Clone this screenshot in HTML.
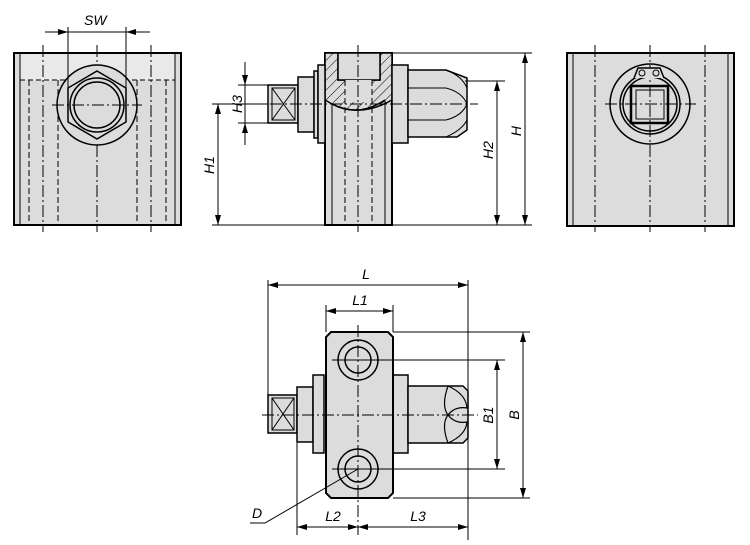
<!DOCTYPE html>
<html><head><meta charset="utf-8"><style>
html,body{margin:0;padding:0;background:#fff;}
svg{display:block;}
text{font-family:"Liberation Sans",sans-serif;font-style:italic;font-size:14px;fill:#000;}
</style></head><body>
<svg width="750" height="545" viewBox="0 0 750 545" xmlns="http://www.w3.org/2000/svg">
<defs>
<marker id="a" viewBox="0 0 10 6" refX="10" refY="3" markerWidth="10" markerHeight="6" markerUnits="userSpaceOnUse" orient="auto-start-reverse"><path d="M0,0L10,3L0,6z" fill="#000"/></marker>
<pattern id="h" width="7" height="7" patternUnits="userSpaceOnUse" patternTransform="rotate(45)"><rect width="7" height="7" fill="#dcdcdc"/><line x1="0" y1="0" x2="0" y2="7" stroke="#000" stroke-width="1"/></pattern>
</defs>
<g stroke="#000" fill="none">
<!-- LEFT VIEW -->
<rect x="14" y="53" width="167" height="172" fill="#dcdcdc" stroke-width="2"/>
<rect x="20" y="54" width="155" height="26" fill="#e9e9e9" stroke="none"/>
<line x1="20" y1="54" x2="20" y2="224"/><line x1="175" y1="54" x2="175" y2="224"/>
<line x1="20" y1="80" x2="175" y2="80" stroke-dasharray="5,3"/>
<g stroke-dasharray="6,3"><line x1="29" y1="80" x2="29" y2="225"/><line x1="58" y1="80" x2="58" y2="225"/><line x1="137" y1="80" x2="137" y2="225"/><line x1="166" y1="80" x2="166" y2="225"/></g>
<g stroke-dasharray="12,3,2,3"><line x1="43" y1="45" x2="43" y2="232"/><line x1="97" y1="45" x2="97" y2="232"/><line x1="151" y1="45" x2="151" y2="232"/></g>
<circle cx="97" cy="105" r="40" fill="#dcdcdc" stroke-width="1.5"/>
<polygon points="97,71 126,88 126,122 97,139 68,122 68,88" stroke-width="1.5"/>
<circle cx="97" cy="105" r="27" stroke-width="1.5"/><circle cx="97" cy="105" r="23" stroke-width="1.5"/>
<line x1="52" y1="105" x2="142" y2="105" stroke-dasharray="12,3,2,3"/>
<line x1="68" y1="27" x2="68" y2="90"/><line x1="126" y1="27" x2="126" y2="90"/>
<line x1="45" y1="32" x2="68" y2="32" marker-end="url(#a)"/><line x1="150" y1="32" x2="126" y2="32" marker-end="url(#a)"/>
<line x1="68" y1="32" x2="126" y2="32"/>
<!-- MIDDLE VIEW -->
<rect x="325" y="53" width="67" height="172" fill="#dcdcdc" stroke-width="2"/>
<path d="M325,53H338V80H380V53H392V100Q360,118 332,104L325,100Z" fill="url(#h)" stroke-width="1.5"/>
<rect x="338" y="53" width="42" height="27" fill="#dcdcdc" stroke-width="1.5"/>
<rect x="345" y="80" width="27" height="22" fill="#dcdcdc" stroke="none"/>
<path d="M332,104Q358,118 385,100" stroke-width="1.5"/>
<line x1="332" y1="104" x2="332" y2="225"/><line x1="385" y1="100" x2="385" y2="225"/>
<g stroke-dasharray="6,3"><line x1="345" y1="80" x2="345" y2="225"/><line x1="372" y1="80" x2="372" y2="225"/></g>
<rect x="268" y="85" width="30" height="38" fill="#dcdcdc" stroke-width="1.5"/>
<rect x="272" y="88" width="23" height="32" stroke-width="1"/>
<line x1="272" y1="88" x2="295" y2="120"/><line x1="295" y1="88" x2="272" y2="120"/>
<rect x="298" y="77" width="16" height="55" fill="#dcdcdc" stroke-width="1.5"/>
<rect x="314" y="71" width="4" height="67" fill="#dcdcdc" stroke-width="1.5"/>
<rect x="318" y="65" width="7" height="78" fill="#dcdcdc" stroke-width="1.5"/>
<rect x="392" y="65" width="16" height="78" fill="#dcdcdc" stroke-width="1.5"/>
<path d="M408,70H446L467,78V130L457,137H408Z" fill="#dcdcdc" stroke-width="1.5"/>
<line x1="408" y1="88" x2="446" y2="88"/><line x1="408" y1="120" x2="446" y2="120"/>
<path d="M446,88Q462,92 467,104Q462,116 446,120"/>
<path d="M446,70Q462,76 467,88"/><path d="M446,137Q462,130 467,120"/>
<line x1="358" y1="45" x2="358" y2="232" stroke-dasharray="12,3,2,3"/>
<line x1="250" y1="104" x2="478" y2="104" stroke-dasharray="12,3,2,3"/>
<line x1="238" y1="85" x2="298" y2="85"/><line x1="238" y1="123" x2="268" y2="123"/>
<line x1="245" y1="62" x2="245" y2="85" marker-end="url(#a)"/><line x1="245" y1="145" x2="245" y2="123" marker-end="url(#a)"/>
<line x1="245" y1="85" x2="245" y2="123"/>
<line x1="212" y1="104" x2="268" y2="104"/>
<line x1="218" y1="104" x2="218" y2="225" marker-start="url(#a)" marker-end="url(#a)"/>
<line x1="212" y1="225" x2="532" y2="225"/>
<line x1="465" y1="81" x2="505" y2="81"/>
<line x1="497" y1="81" x2="497" y2="225" marker-start="url(#a)" marker-end="url(#a)"/>
<line x1="392" y1="53" x2="532" y2="53"/>
<line x1="525" y1="53" x2="525" y2="225" marker-start="url(#a)" marker-end="url(#a)"/>
<!-- RIGHT VIEW -->
<rect x="567" y="53" width="167" height="173" fill="#dcdcdc" stroke-width="2"/>
<line x1="573" y1="54" x2="573" y2="225"/><line x1="728" y1="54" x2="728" y2="225"/>
<g stroke-dasharray="12,3,2,3"><line x1="595" y1="45" x2="595" y2="232"/><line x1="650" y1="45" x2="650" y2="232"/><line x1="705" y1="45" x2="705" y2="232"/></g>
<circle cx="650" cy="104" r="40" stroke-width="1.5"/>
<circle cx="650" cy="104" r="30" stroke-width="1.5"/><circle cx="650" cy="104" r="27" stroke-width="1.5"/>
<rect x="631" y="86" width="37" height="37" stroke-width="2.5"/>
<rect x="636" y="90" width="28" height="29"/>
<path d="M634,78L638,68H660L664,78" stroke-width="1.5" fill="#dcdcdc"/>
<circle cx="642" cy="73" r="3"/><circle cx="656" cy="73" r="3"/>
<line x1="605" y1="104" x2="696" y2="104" stroke-dasharray="12,3,2,3"/>
<!-- BOTTOM VIEW -->
<rect x="268" y="395" width="29" height="38" fill="#dcdcdc" stroke-width="1.5"/>
<rect x="272" y="398" width="22" height="32"/>
<line x1="272" y1="398" x2="294" y2="430"/><line x1="294" y1="398" x2="272" y2="430"/>
<rect x="297" y="387" width="16" height="55" fill="#dcdcdc" stroke-width="1.5"/>
<rect x="313" y="375" width="11" height="78" fill="#dcdcdc" stroke-width="1.5"/>
<rect x="393" y="375" width="15" height="78" fill="#dcdcdc" stroke-width="1.5"/>
<path d="M408,386H463L468,391V438L463,443H408Z" fill="#dcdcdc" stroke-width="1.5"/>
<path d="M448,386Q466,394 467,408Q455,406 448,415Q441,406 448,386" stroke-width="1.2"/>
<path d="M448,443Q466,435 467,422Q455,424 448,415Q441,424 448,443" stroke-width="1.2"/>
<path d="M331,332H388L393,337V493L388,498H331L326,493V337Z" fill="#dcdcdc" stroke-width="2"/>
<circle cx="358" cy="360" r="20" stroke-width="1.5"/><circle cx="358" cy="360" r="13" stroke-width="1.5"/>
<circle cx="358" cy="469" r="20" stroke-width="1.5"/><circle cx="358" cy="469" r="13" stroke-width="1.5"/>
<line x1="358" y1="325" x2="358" y2="535" stroke-dasharray="12,3,2,3"/>
<line x1="262" y1="415" x2="478" y2="415" stroke-dasharray="12,3,2,3"/>
<line x1="332" y1="360" x2="505" y2="360"/><line x1="332" y1="469" x2="505" y2="469"/>
<line x1="268" y1="280" x2="268" y2="395"/><line x1="468" y1="280" x2="468" y2="540"/>
<line x1="268" y1="285" x2="468" y2="285" marker-start="url(#a)" marker-end="url(#a)"/>
<line x1="326" y1="305" x2="326" y2="332"/><line x1="393" y1="305" x2="393" y2="332"/>
<line x1="326" y1="311" x2="393" y2="311" marker-start="url(#a)" marker-end="url(#a)"/>
<line x1="393" y1="332" x2="530" y2="332"/><line x1="393" y1="498" x2="530" y2="498"/>
<line x1="523" y1="332" x2="523" y2="498" marker-start="url(#a)" marker-end="url(#a)"/>
<line x1="497" y1="360" x2="497" y2="469" marker-start="url(#a)" marker-end="url(#a)"/>
<line x1="297" y1="443" x2="297" y2="535"/>
<line x1="297" y1="527" x2="358" y2="527" marker-start="url(#a)" marker-end="url(#a)"/>
<line x1="358" y1="527" x2="468" y2="527" marker-start="url(#a)" marker-end="url(#a)"/>
<polyline points="250,523 265,523 358,469"/>
</g>
<text x="84" y="25">SW</text>
<text transform="translate(242,104) rotate(-90)" text-anchor="middle">H3</text>
<text transform="translate(214,165) rotate(-90)" text-anchor="middle">H1</text>
<text transform="translate(493,150) rotate(-90)" text-anchor="middle">H2</text>
<text transform="translate(521,131) rotate(-90)" text-anchor="middle">H</text>
<text x="366" y="279" text-anchor="middle">L</text>
<text x="360" y="305" text-anchor="middle">L1</text>
<text transform="translate(493,415) rotate(-90)" text-anchor="middle">B1</text>
<text transform="translate(519,415) rotate(-90)" text-anchor="middle">B</text>
<text x="333" y="521" text-anchor="middle">L2</text>
<text x="418" y="521" text-anchor="middle">L3</text>
<text x="252" y="518">D</text>
</svg>
</body></html>
